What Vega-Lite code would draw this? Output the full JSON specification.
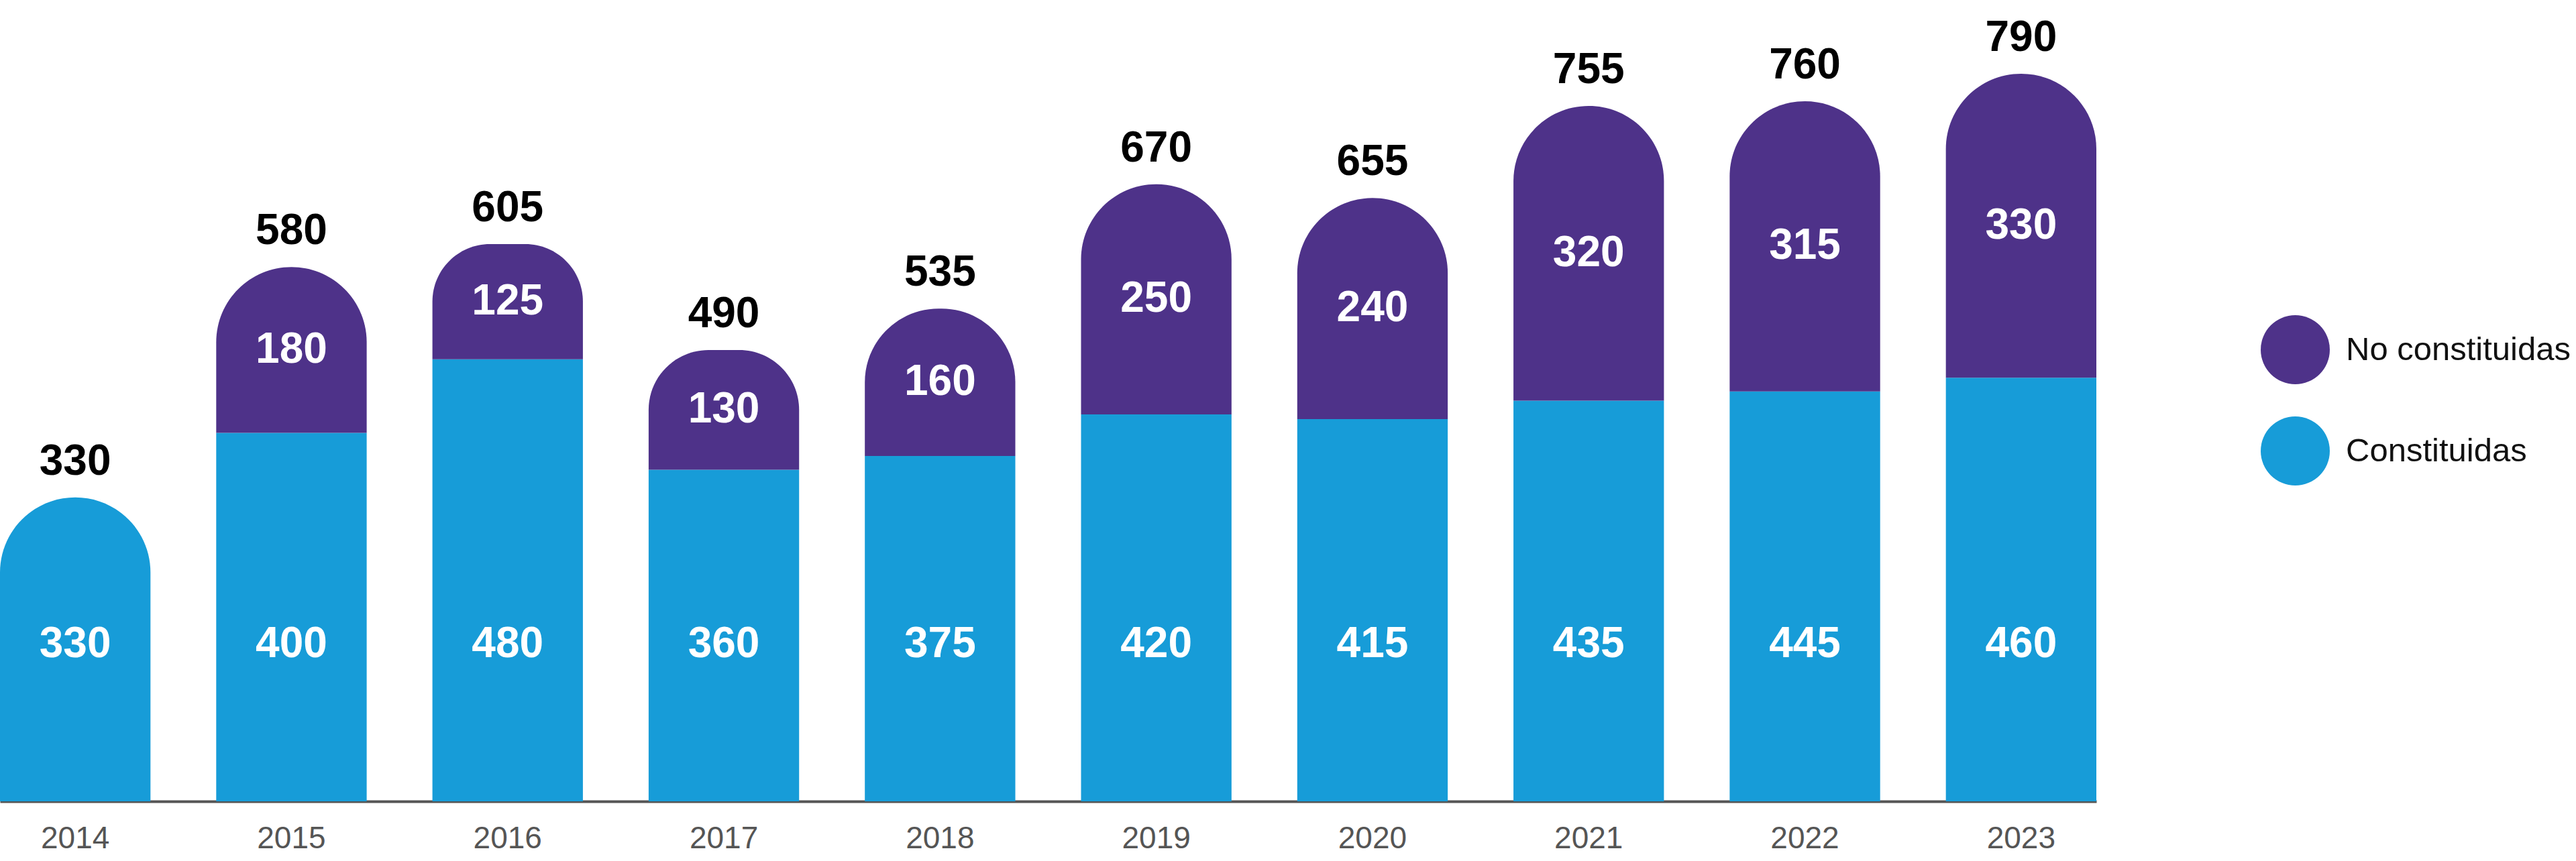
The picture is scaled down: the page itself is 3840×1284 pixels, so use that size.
{
  "$schema": "https://vega.github.io/schema/vega-lite/v6.json",
  "width": 3125,
  "height": 1195,
  "autosize": {"type": "none"},
  "padding": {"left": 0, "top": 0, "right": 715, "bottom": 89},
  "background": "white",
  "config": {"view": {"stroke": null}, "font": "Liberation Sans"},
  "data": {
    "values": [
      {"Year": "2014", "Category": "Constituidas", "Value": 330},
      {"Year": "2015", "Category": "Constituidas", "Value": 400},
      {"Year": "2015", "Category": "No constituidas", "Value": 180},
      {"Year": "2016", "Category": "Constituidas", "Value": 480},
      {"Year": "2016", "Category": "No constituidas", "Value": 125},
      {"Year": "2017", "Category": "Constituidas", "Value": 360},
      {"Year": "2017", "Category": "No constituidas", "Value": 130},
      {"Year": "2018", "Category": "Constituidas", "Value": 375},
      {"Year": "2018", "Category": "No constituidas", "Value": 160},
      {"Year": "2019", "Category": "Constituidas", "Value": 420},
      {"Year": "2019", "Category": "No constituidas", "Value": 250},
      {"Year": "2020", "Category": "Constituidas", "Value": 415},
      {"Year": "2020", "Category": "No constituidas", "Value": 240},
      {"Year": "2021", "Category": "Constituidas", "Value": 435},
      {"Year": "2021", "Category": "No constituidas", "Value": 320},
      {"Year": "2022", "Category": "Constituidas", "Value": 445},
      {"Year": "2022", "Category": "No constituidas", "Value": 315},
      {"Year": "2023", "Category": "Constituidas", "Value": 460},
      {"Year": "2023", "Category": "No constituidas", "Value": 330}
    ]
  },
  "transform": [
    {"stack": "Value", "groupby": ["Year"], "sort": [{"field": "Category", "order": "ascending"}], "as": ["y0", "y1"]},
    {"joinaggregate": [{"op": "sum", "field": "Value", "as": "Total"}], "groupby": ["Year"]}
  ],
  "encoding": {
    "x": {
      "field": "Year",
      "type": "ordinal",
      "scale": {"paddingInner": 0.304, "paddingOuter": 0},
      "axis": {
        "title": null,
        "labelAngle": 0,
        "ticks": false,
        "domainColor": "#555555",
        "domainWidth": 4,
        "labelFontSize": 46,
        "labelColor": "#555555",
        "labelPadding": 33,
        "labelFont": "Liberation Sans"
      }
    }
  },
  "layer": [
    {
      "transform": [{"filter": "datum.y1 < datum.Total"}],
      "mark": {"type": "bar"},
      "encoding": {
        "y": {"field": "y0", "type": "quantitative", "scale": {"domain": [0, 870], "nice": false, "zero": true}, "axis": null},
        "y2": {"field": "y1"},
        "color": {
          "field": "Category",
          "type": "nominal",
          "scale": {"domain": ["No constituidas", "Constituidas"], "range": ["#4E3289", "#179CD8"]},
          "legend": {
            "title": null,
            "orient": "none",
            "legendX": 3370,
            "legendY": 470,
            "padding": 0,
            "symbolType": "circle",
            "symbolSize": 10600,
            "symbolStrokeWidth": 0,
            "symbolOpacity": 1,
            "labelFontSize": 49,
            "labelFont": "Liberation Sans",
            "labelColor": "#111111",
            "labelOffset": 24,
            "rowPadding": 48,
            "labelLimit": 400
          }
        }
      }
    },
    {
      "transform": [{"filter": "datum.y1 >= datum.Total"}],
      "mark": {"type": "bar", "cornerRadiusTopLeft": 112, "cornerRadiusTopRight": 112},
      "encoding": {
        "y": {"field": "y0", "type": "quantitative"},
        "y2": {"field": "y1"},
        "color": {"field": "Category", "type": "nominal"}
      }
    },
    {
      "transform": [{"filter": "datum.Category === 'Constituidas'"}],
      "mark": {"type": "text", "color": "white", "fontWeight": "bold", "fontSize": 64, "baseline": "middle"},
      "encoding": {
        "y": {"datum": 170, "type": "quantitative"},
        "text": {"field": "Value", "type": "quantitative"}
      }
    },
    {
      "transform": [
        {"filter": "datum.Category === 'No constituidas'"},
        {"fold": ["y0", "y1"], "as": ["k", "v"]}
      ],
      "mark": {"type": "text", "color": "white", "fontWeight": "bold", "fontSize": 64, "baseline": "middle"},
      "encoding": {
        "y": {"aggregate": "mean", "field": "v", "type": "quantitative"},
        "text": {"field": "Value", "type": "quantitative"}
      }
    },
    {
      "transform": [{"filter": "datum.y1 >= datum.Total"}],
      "mark": {"type": "text", "color": "#000000", "fontWeight": "bold", "fontSize": 64, "baseline": "alphabetic", "dy": -34},
      "encoding": {
        "y": {"field": "Total", "type": "quantitative"},
        "text": {"field": "Total", "type": "quantitative"}
      }
    }
  ]
}
